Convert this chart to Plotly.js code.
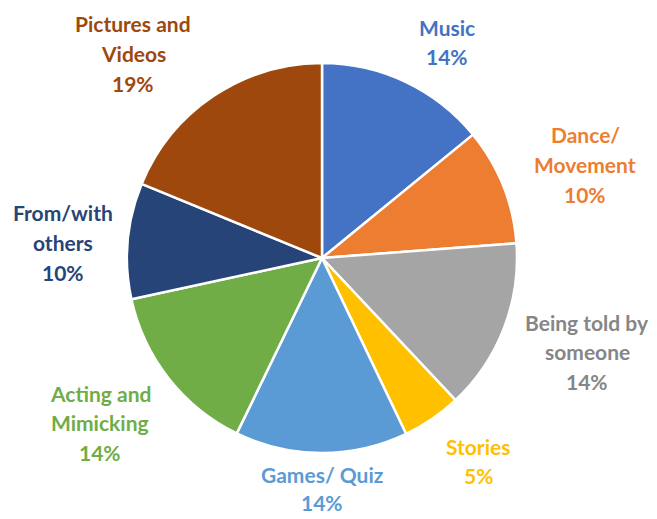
<!DOCTYPE html>
<html>
<head>
<meta charset="utf-8">
<script src="https://cdn.plot.ly/plotly-3.0.1.min.js"></script>
<style>html,body{margin:0;padding:0;background:#fff;}#chart{width:657px;height:519px;}</style>
</head>
<body>
<div id="chart"></div>
<script>
// Data
var categories = ["Music", "Dance/ Movement", "Being told by someone", "Stories", "Games/ Quiz", "Acting and Mimicking", "From/with others", "Pictures and Videos"];
var values = [14.1, 9.7, 14.2, 4.9, 14.3, 14.4, 9.6, 18.8];
var labelLines = [
  ["Music"],
  ["Dance/", "Movement"],
  ["Being told by", "someone"],
  ["Stories"],
  ["Games/ Quiz"],
  ["Acting and", "Mimicking"],
  ["From/with", "others"],
  ["Pictures and", "Videos"]
];
var sliceColors = ["#4472C4", "#ED7D31", "#A5A5A5", "#FFC000", "#5B9BD5", "#70AD47", "#264478", "#9E480E"];
var textColors  = ["#4472C4", "#ED7D31", "#868686", "#FFC000", "#5B9BD5", "#70AD47", "#264478", "#9E480E"];

// Layout helpers (pixel positions of label blocks)
var W = 657, H = 519;
var labelCenters = [[447, 27], [585, 135], [587, 322], [478, 446], [322, 474], [100, 393], [63, 213], [133, 24]];
var lineGap = 29.5;

var total = values.reduce(function(a, b){ return a + b; }, 0);
var annotations = [];
labelCenters.forEach(function(c, i) {
  var lines = labelLines[i].concat([Math.round(values[i] / total * 100) + "%"]);
  var gap = (i === 4) ? 28 : lineGap;
  lines.forEach(function(t, j) {
    annotations.push({
      x: c[0] / W, y: 1 - (c[1] + j * gap) / H,
      xref: "paper", yref: "paper", xanchor: "center", yanchor: "middle",
      showarrow: false, text: t, borderpad: 0,
      font: {family: "Lato, 'Open Sans', sans-serif", size: 21, color: textColors[i], weight: 700}
    });
  });
});

var cx = 322, cy = 258, r = 195;
var trace = {
  type: "pie",
  labels: categories,
  values: values,
  sort: false,
  direction: "clockwise",
  rotation: 0,
  textinfo: "none",
  hoverinfo: "label+percent",
  marker: {colors: sliceColors, line: {color: "#ffffff", width: 2.5}},
  domain: {x: [(cx - r) / W, (cx + r) / W], y: [1 - (cy + r) / H, 1 - (cy - r) / H]},
  showlegend: false
};

var layout = {
  width: W, height: H,
  margin: {l: 0, r: 0, t: 0, b: 0},
  paper_bgcolor: "#ffffff",
  showlegend: false,
  annotations: annotations
};

Plotly.newPlot("chart", [trace], layout, {staticPlot: true, displayModeBar: false});
</script>
</body>
</html>
